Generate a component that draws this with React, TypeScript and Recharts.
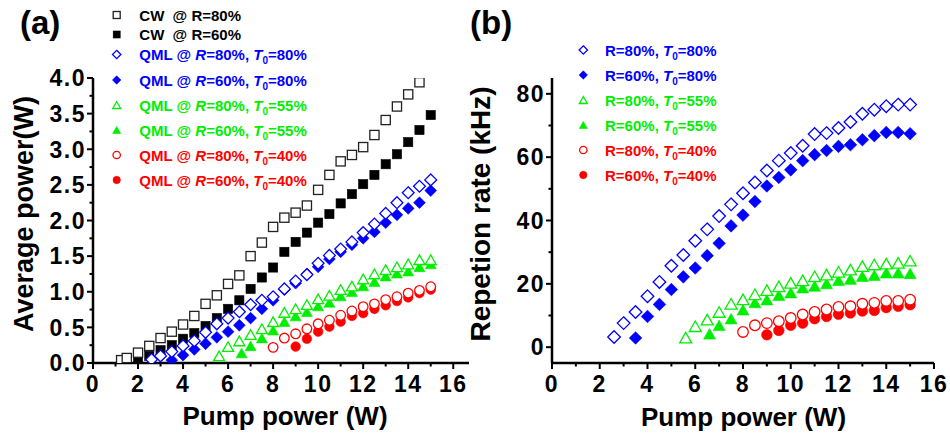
import { ScatterChart, Scatter, XAxis, YAxis, Legend } from "recharts";

const FONT = '"Liberation Sans", Arial, Helvetica, sans-serif';
const BLUE = "#0000ff";
const GREEN = "#00ee00";
const RED = "#ff0000";
const BLACK = "#000000";

// pump power steps (W)
const pumpCW80 = [1.25, 1.5, 2, 2.5, 3, 3.5, 4, 4.5, 5, 5.5, 6, 6.5, 7, 7.5, 8, 8.5, 9, 9.5, 10, 10.5, 11, 11.5, 12, 12.5, 13, 13.5, 14, 14.5];
const pumpCW60 = [2, 2.5, 3, 3.5, 4, 4.5, 5, 5.5, 6, 6.5, 7, 7.5, 8, 8.5, 9, 9.5, 10, 10.5, 11, 11.5, 12, 12.5, 13, 13.5, 14, 14.5, 15];
const pumpT80a = [2.6, 3, 3.5, 4, 4.5, 5, 5.5, 6, 6.5, 7, 7.5, 8, 8.5, 9, 9.5, 10, 10.5, 11, 11.5, 12, 12.5, 13, 13.5, 14, 14.5, 15];
const pumpT80b = [3.5, 4, 4.5, 5, 5.5, 6, 6.5, 7, 7.5, 8, 8.5, 9, 9.5, 10, 10.5, 11, 11.5, 12, 12.5, 13, 13.5, 14, 14.5, 15];
const pumpT55a = [5.6, 6, 6.5, 7, 7.5, 8, 8.5, 9, 9.5, 10, 10.5, 11, 11.5, 12, 12.5, 13, 13.5, 14, 14.5, 15];
const pumpT55b = [6.6, 7, 7.5, 8, 8.5, 9, 9.5, 10, 10.5, 11, 11.5, 12, 12.5, 13, 13.5, 14, 14.5, 15];
const pumpT40a = [8, 8.5, 9, 9.5, 10, 10.5, 11, 11.5, 12, 12.5, 13, 13.5, 14, 14.5, 15];
const pumpT40b = [9, 9.5, 10, 10.5, 11, 11.5, 12, 12.5, 13, 13.5, 14, 14.5, 15];

// (a) average power (W)
const powCW80 = [0.04, 0.07, 0.145, 0.24, 0.35, 0.44, 0.54, 0.66, 0.83, 0.95, 1.11, 1.23, 1.5, 1.69, 1.91, 2.04, 2.11, 2.21, 2.43, 2.64, 2.83, 2.92, 3.03, 3.2, 3.41, 3.6, 3.77, 3.94];
const powCW60 = [0.05, 0.1, 0.18, 0.25, 0.34, 0.42, 0.52, 0.63, 0.76, 0.88, 1.04, 1.2, 1.34, 1.56, 1.7, 1.83, 1.97, 2.09, 2.24, 2.37, 2.51, 2.64, 2.79, 2.93, 3.1, 3.27, 3.48];
const powR80T80 = [0.05, 0.1, 0.16, 0.24, 0.31, 0.43, 0.55, 0.63, 0.72, 0.82, 0.88, 0.93, 1.04, 1.15, 1.24, 1.4, 1.51, 1.6, 1.7, 1.83, 1.95, 2.1, 2.25, 2.39, 2.48, 2.57];
const powR60T80 = [0.04, 0.11, 0.19, 0.27, 0.36, 0.44, 0.53, 0.63, 0.76, 0.88, 1.03, 1.12, 1.25, 1.35, 1.46, 1.56, 1.66, 1.75, 1.84, 1.97, 2.08, 2.17, 2.25, 2.42];
const powR80T55 = [0.1, 0.23, 0.31, 0.4, 0.48, 0.58, 0.71, 0.76, 0.82, 0.9, 0.95, 1.03, 1.08, 1.18, 1.25, 1.31, 1.35, 1.39, 1.45, 1.45];
const powR60T55 = [0.14, 0.24, 0.35, 0.46, 0.58, 0.66, 0.72, 0.8, 0.85, 0.94, 1.0, 1.08, 1.14, 1.22, 1.26, 1.29, 1.35, 1.39];
const powR80T40 = [0.22, 0.35, 0.41, 0.48, 0.55, 0.6, 0.67, 0.73, 0.79, 0.83, 0.89, 0.93, 0.98, 1.02, 1.07];
const powR60T40 = [0.23, 0.34, 0.44, 0.51, 0.58, 0.66, 0.7, 0.76, 0.81, 0.87, 0.92, 0.98, 1.03];

// (b) repetition rate (kHz)
const repR80T80 = [3.2, 7.6, 11.1, 16.1, 20.6, 25.7, 29.1, 33.6, 37.2, 41.4, 45.1, 48.6, 52.0, 55.8, 58.9, 61.3, 63.6, 67.3, 67.6, 69.2, 71.1, 73.7, 75.0, 76.1, 76.6, 76.6];
const repR60T80 = [2.9, 9.7, 13.5, 18.2, 22.2, 25.0, 28.9, 32.8, 38.3, 41.7, 46.0, 50.9, 53.6, 56.0, 58.9, 60.8, 62.1, 63.4, 63.9, 65.5, 66.8, 67.8, 67.8, 67.4];
const repR80T55 = [3.0, 6.6, 8.7, 11.1, 13.7, 15.1, 16.7, 18.0, 19.2, 20.3, 21.1, 22.4, 22.9, 23.8, 24.5, 25.6, 26.1, 26.4, 26.6, 27.3];
const repR60T55 = [4.2, 6.9, 9.0, 11.8, 14.1, 15.0, 16.4, 17.2, 18.8, 19.3, 20.1, 21.1, 21.5, 22.4, 22.7, 23.5, 23.5, 23.3];
const repR80T40 = [4.8, 6.9, 7.6, 8.2, 9.2, 10.3, 11.1, 11.9, 12.7, 12.9, 13.7, 14.0, 14.6, 14.6, 15.0];
const repR60T40 = [3.9, 5.3, 6.9, 7.6, 9.0, 9.7, 10.4, 10.8, 11.4, 11.6, 12.5, 12.9, 13.4];

const pumpTicks = [0, 1, 2, 3, 4, 5, 6, 7, 8, 9, 10, 11, 12, 13, 14, 15, 16];
const powerTicks = [0, 0.25, 0.5, 0.75, 1, 1.25, 1.5, 1.75, 2, 2.25, 2.5, 2.75, 3, 3.25, 3.5, 3.75, 4];
const rateTicks = [0, 10, 20, 30, 40, 50, 60, 70, 80];

type Kind = "square" | "diamond" | "triangle" | "circle";
type Pt = { x: number; y: number };

const zip = (xs: number[], ys: number[]): Pt[] => xs.map((x, i) => ({ x, y: ys[i] }));

const tickFont = { fontFamily: FONT, fontSize: 23, fontWeight: 700, letterSpacing: 1.5 } as const;
const titleFont = { fontFamily: FONT, fontWeight: 700 } as const;

function Marker({ cx, cy, kind, filled, color, r }: { cx: number; cy: number; kind: Kind; filled: boolean; color: string; r: number }) {
  if (cx == null || cy == null) return null;
  const fill = filled ? color : "#ffffff";
  const stroke = color;
  const sw = filled ? 0.6 : 1.3;
  if (kind === "square") {
    return <rect x={cx - r} y={cy - r} width={2 * r} height={2 * r} fill={fill} stroke={stroke} strokeWidth={sw} />;
  }
  if (kind === "diamond") {
    return <polygon points={`${cx},${cy - r} ${cx + r},${cy} ${cx},${cy + r} ${cx - r},${cy}`} fill={fill} stroke={stroke} strokeWidth={sw} />;
  }
  if (kind === "triangle") {
    const h = r * 1.75;
    return <polygon points={`${cx},${cy - h / 2} ${cx + r},${cy + h / 2} ${cx - r},${cy + h / 2}`} fill={fill} stroke={stroke} strokeWidth={sw} />;
  }
  return <circle cx={cx} cy={cy} r={r} fill={fill} stroke={stroke} strokeWidth={sw} />;
}

const sizeA: Record<Kind, number> = { square: 4.6, diamond: 5.9, triangle: 5.5, circle: 4.8 };
const sizeB: Record<Kind, number> = { square: 4.5, diamond: 6.3, triangle: 6, circle: 5.3 };

type SeriesDef = { key: string; kind: Kind; filled: boolean; color: string; data: Pt[] };

// filled series first so the white-filled open markers sit on top
const seriesA: SeriesDef[] = [
  { key: "cw60", kind: "square", filled: true, color: BLACK, data: zip(pumpCW60, powCW60) },
  { key: "cw80", kind: "square", filled: false, color: "#222222", data: zip(pumpCW80, powCW80) },
  { key: "r60t80", kind: "diamond", filled: true, color: BLUE, data: zip(pumpT80b, powR60T80) },
  { key: "r80t80", kind: "diamond", filled: false, color: BLUE, data: zip(pumpT80a, powR80T80) },
  { key: "r60t55", kind: "triangle", filled: true, color: GREEN, data: zip(pumpT55b, powR60T55) },
  { key: "r80t55", kind: "triangle", filled: false, color: GREEN, data: zip(pumpT55a, powR80T55) },
  { key: "r60t40", kind: "circle", filled: true, color: RED, data: zip(pumpT40b, powR60T40) },
  { key: "r80t40", kind: "circle", filled: false, color: RED, data: zip(pumpT40a, powR80T40) },
];

const seriesB: SeriesDef[] = [
  { key: "r60t80", kind: "diamond", filled: true, color: BLUE, data: zip(pumpT80b, repR60T80) },
  { key: "r80t80", kind: "diamond", filled: false, color: BLUE, data: zip(pumpT80a, repR80T80) },
  { key: "r60t55", kind: "triangle", filled: true, color: GREEN, data: zip(pumpT55b, repR60T55) },
  { key: "r80t55", kind: "triangle", filled: false, color: GREEN, data: zip(pumpT55a, repR80T55) },
  { key: "r60t40", kind: "circle", filled: true, color: RED, data: zip(pumpT40b, repR60T40) },
  { key: "r80t40", kind: "circle", filled: false, color: RED, data: zip(pumpT40a, repR80T40) },
];

function XTick(props: any) {
  const { x, y, payload } = props;
  const v = payload.value as number;
  const major = v % 2 === 0;
  return (
    <g>
      <line x1={x} x2={x} y1={y} y2={y + (major ? 6 : 3.5)} stroke="#000" strokeWidth={2} />
      {major && (
        <text x={x} y={y + 28.5} textAnchor="middle" fill="#000" style={tickFont}>
          {v}
        </text>
      )}
    </g>
  );
}

function makeYTick(isMajor: (v: number) => boolean, fmt: (v: number) => string) {
  return (props: any) => {
    const { x, y, payload } = props;
    const v = payload.value as number;
    const major = isMajor(v);
    return (
      <g>
        <line x1={x} x2={x - (major ? 6 : 3.5)} y1={y} y2={y} stroke="#000" strokeWidth={2} />
        {major && (
          <text x={x - 7} y={y + 8.3} textAnchor="end" fill="#000" style={tickFont}>
            {fmt(v)}
          </text>
        )}
      </g>
    );
  };
}

const PowerTick = makeYTick((v) => Math.abs(v * 2 - Math.round(v * 2)) < 1e-6, (v) => v.toFixed(1));
const RateTick = makeYTick((v) => v % 20 === 0, (v) => String(v));

type LegendRow = { kind: Kind; filled: boolean; color: string; textColor: string; prefix: string; r: string; t?: string; rItalic?: boolean; y: number };

const legendA: LegendRow[] = [
  { kind: "square", filled: false, color: "#222222", textColor: BLACK, prefix: "CW\u00a0 @ ", r: "80", y: 15 },
  { kind: "square", filled: true, color: BLACK, textColor: BLACK, prefix: "CW\u00a0 @ ", r: "60", y: 34.5 },
  { kind: "diamond", filled: false, color: BLUE, textColor: BLUE, prefix: "QML @ ", r: "80", t: "80", rItalic: true, y: 54.5 },
  { kind: "diamond", filled: true, color: BLUE, textColor: BLUE, prefix: "QML @ ", r: "60", t: "80", rItalic: true, y: 80 },
  { kind: "triangle", filled: false, color: GREEN, textColor: GREEN, prefix: "QML @ ", r: "80", t: "55", rItalic: true, y: 105 },
  { kind: "triangle", filled: true, color: GREEN, textColor: GREEN, prefix: "QML @ ", r: "60", t: "55", rItalic: true, y: 130 },
  { kind: "circle", filled: false, color: RED, textColor: RED, prefix: "QML @ ", r: "80", t: "40", rItalic: true, y: 155 },
  { kind: "circle", filled: true, color: RED, textColor: RED, prefix: "QML @ ", r: "60", t: "40", rItalic: true, y: 180 },
];

const legendB: LegendRow[] = [
  { kind: "diamond", filled: false, color: BLUE, textColor: BLUE, prefix: "", r: "80", t: "80", y: 50 },
  { kind: "diamond", filled: true, color: BLUE, textColor: BLUE, prefix: "", r: "60", t: "80", y: 75 },
  { kind: "triangle", filled: false, color: GREEN, textColor: GREEN, prefix: "", r: "80", t: "55", y: 100 },
  { kind: "triangle", filled: true, color: GREEN, textColor: GREEN, prefix: "", r: "60", t: "55", y: 125 },
  { kind: "circle", filled: false, color: RED, textColor: RED, prefix: "", r: "80", t: "40", y: 150 },
  { kind: "circle", filled: true, color: RED, textColor: RED, prefix: "", r: "60", t: "40", y: 175 },
];

const legendSym: Record<Kind, number> = { square: 3.5, diamond: 4.2, triangle: 4, circle: 3.7 };

function LegendBox({ rows, symX, textX }: { rows: LegendRow[]; symX: number; textX: number }) {
  return (
    <svg width={280} height={200} style={{ overflow: "visible" }}>
      {rows.map((row, i) => (
        <g key={i}>
          <Marker cx={symX} cy={row.y} kind={row.kind} filled={row.filled} color={row.color} r={legendSym[row.kind]} />
          <text x={textX} y={row.y + 5.5} fill={row.textColor} fontSize={15} fontWeight={700} fontFamily={FONT}>
            {row.prefix}
            {row.t ? (
              <>
                <tspan fontStyle={row.rItalic ? "italic" : "normal"}>R</tspan>
                <tspan>{`=${row.r}%, `}</tspan>
                <tspan fontStyle="italic">T</tspan>
                <tspan fontSize={10} dy={4}>0</tspan>
                <tspan dy={-4}>{`=${row.t}%`}</tspan>
              </>
            ) : (
              <tspan>{`R=${row.r}%`}</tspan>
            )}
          </text>
        </g>
      ))}
    </svg>
  );
}

function renderSeries(list: SeriesDef[], sizes: Record<Kind, number>) {
  return list.map((s) => (
    <Scatter
      key={s.key}
      data={s.data}
      isAnimationActive={false}
      shape={(p: any) => <Marker cx={p.cx} cy={p.cy} kind={s.kind} filled={s.filled} color={s.color} r={sizes[s.kind]} />}
    />
  ));
}

export default function App() {
  return (
    <div style={{ position: "absolute", left: 0, top: 0, width: 950, height: 434, background: "#fff" }}>
      <div style={{ position: "absolute", left: 0, top: 0 }}>
        <ScatterChart width={470} height={434} margin={{ top: 78, right: 1, bottom: 41, left: 33 }}>
          <XAxis
            type="number"
            dataKey="x"
            domain={[0, 16.7]}
            ticks={pumpTicks}
            interval={0}
            height={30}
            tickSize={0}
            tickMargin={0}
            tickLine={false}
            axisLine={{ stroke: "#000", strokeWidth: 2.5 }}
            tick={XTick}
            allowDataOverflow
            label={{
              content: () => (
                <text x={285} y={425} textAnchor="middle" fontSize={26} style={titleFont}>
                  Pump power (W)
                </text>
              ),
            }}
          />
          <YAxis
            type="number"
            dataKey="y"
            domain={[0, 4]}
            ticks={powerTicks}
            interval={0}
            width={60}
            tickSize={0}
            tickMargin={0}
            tickLine={false}
            axisLine={{ stroke: "#000", strokeWidth: 2.5 }}
            tick={PowerTick}
            allowDataOverflow
            label={{
              content: () => (
                <text transform="translate(33,214) rotate(-90)" textAnchor="middle" fontSize={27} style={titleFont}>
                  Average power(W)
                </text>
              ),
            }}
          />
          <Legend
            layout="vertical"
            align="center"
            verticalAlign="middle"
            wrapperStyle={{ left: 100, top: 0, width: 280, height: 200 }}
            content={() => <LegendBox rows={legendA} symX={16.7} textX={39.3} />}
          />
          {renderSeries(seriesA, sizeA)}
        </ScatterChart>
      </div>
      <div style={{ position: "absolute", left: 465, top: 0 }}>
        <ScatterChart width={485} height={434} margin={{ top: 78, right: 16, bottom: 41, left: 27 }}>
          <XAxis
            type="number"
            dataKey="x"
            domain={[0, 16]}
            ticks={pumpTicks}
            interval={0}
            height={30}
            tickSize={0}
            tickMargin={0}
            tickLine={false}
            axisLine={{ stroke: "#000", strokeWidth: 2.5 }}
            tick={XTick}
            allowDataOverflow
            label={{
              content: () => (
                <text x={278.5} y={426} textAnchor="middle" fontSize={26} style={titleFont}>
                  Pump power (W)
                </text>
              ),
            }}
          />
          <YAxis
            type="number"
            dataKey="y"
            domain={[-5, 85]}
            ticks={rateTicks}
            interval={0}
            width={60}
            tickSize={0}
            tickMargin={0}
            tickLine={false}
            axisLine={{ stroke: "#000", strokeWidth: 2.5 }}
            tick={RateTick}
            allowDataOverflow
            label={{
              content: () => (
                <text transform="translate(25,214) rotate(-90)" textAnchor="middle" fontSize={28} style={titleFont}>
                  Repetion rate (kHz)
                </text>
              ),
            }}
          />
          <Legend
            layout="vertical"
            align="center"
            verticalAlign="middle"
            wrapperStyle={{ left: 100, top: 0, width: 280, height: 200 }}
            content={() => <LegendBox rows={legendB} symX={18.3} textX={40} />}
          />
          {renderSeries(seriesB, sizeB)}
        </ScatterChart>
      </div>
      <div style={{ position: "absolute", left: 20, top: 3, fontFamily: FONT, fontWeight: 700, fontSize: 33, lineHeight: "40px" }}>(a)</div>
      <div style={{ position: "absolute", left: 470, top: 3, fontFamily: FONT, fontWeight: 700, fontSize: 33, lineHeight: "40px" }}>(b)</div>
    </div>
  );
}
